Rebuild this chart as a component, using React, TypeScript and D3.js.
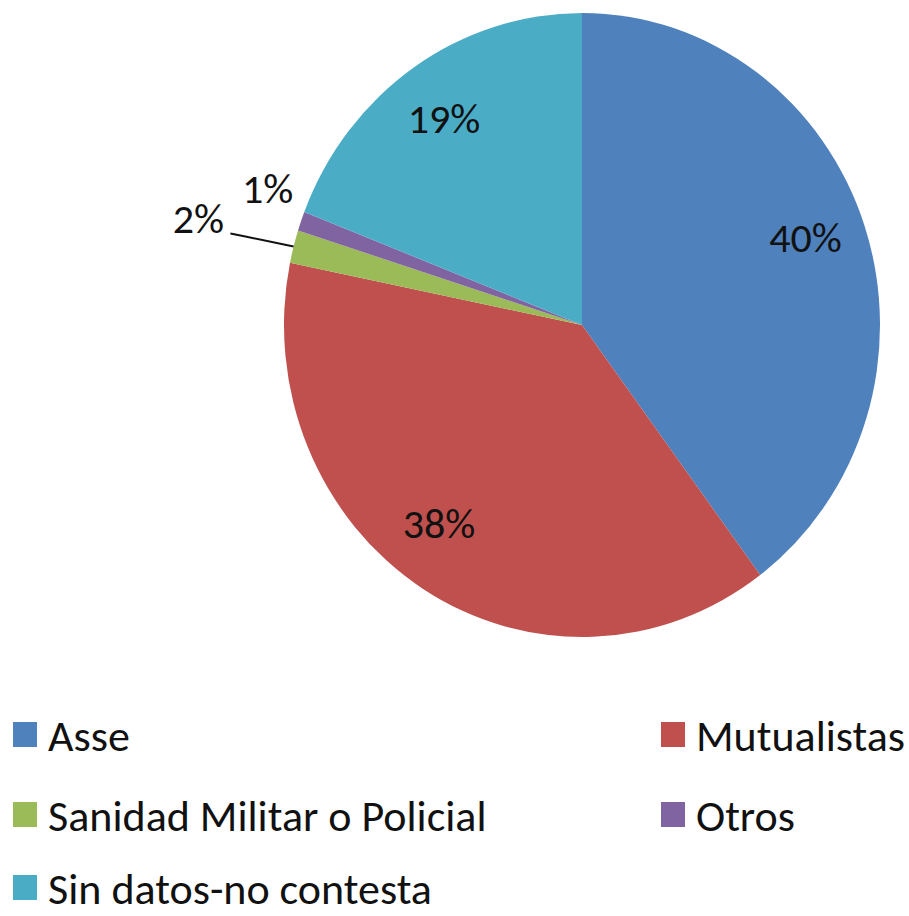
import * as d3 from "d3";

const categories = [
  "Asse",
  "Mutualistas",
  "Sanidad Militar o Policial",
  "Otros",
  "Sin datos-no contesta",
];
const values = [39.8, 38.4, 1.7, 1.0, 19.1];
const colors = ["#4F81BD", "#C0504D", "#9BBB59", "#8064A2", "#4BACC6"];

const width = 909;
const height = 916;
const cx = 582;
const cy = 325;
const radius = 298;
const yStretch = 312 / 298; // source picture is slightly taller than wide
const font = "Calibri, Carlito, Lato, sans-serif";

// label distance as a fraction of the radius; outside ones sit past the rim
const labelRadius = [0.79, 0.82, 1.33, 1.14, 0.82];
// small hand nudges so labels sit where Excel put them
const labelNudge = [
  [0, -10],
  [-12, -18],
  [0, -2],
  [6, -18],
  [0, 5],
];

export default function App() {
  const pie = d3
    .pie<number>()
    .sort(null)
    .value((d) => d);
  const arcs = pie(values);
  const arc = d3.arc<d3.PieArcDatum<number>>().innerRadius(0).outerRadius(radius);
  const total = d3.sum(values);

  const labelPos = (d: d3.PieArcDatum<number>, k: number) => {
    const a = (d.startAngle + d.endAngle) / 2;
    return [Math.sin(a) * radius * k, -Math.cos(a) * radius * k * yStretch];
  };

  const legendRows = [
    { i: 0, x: 13, y: 735 },
    { i: 1, x: 661, y: 735 },
    { i: 2, x: 13, y: 815 },
    { i: 3, x: 661, y: 815 },
    { i: 4, x: 13, y: 888 },
  ];

  return (
    <svg
      width={width}
      height={height}
      style={{ position: "absolute", left: 0, top: 0, background: "#fff" }}
    >
      <g transform={`translate(${cx},${cy})`}>
        <g transform={`scale(1,${yStretch})`}>
          {arcs.map((d, i) => (
            <path key={categories[i]} d={arc(d) ?? ""} fill={colors[i]} />
          ))}
        </g>
        {arcs.map((d, i) => {
          const [lx, ly] = labelPos(d, labelRadius[i]);
          const pct = `${Math.round((d.data / total) * 100)}%`;
          return (
            <text
              key={`l-${i}`}
              x={lx + labelNudge[i][0]}
              y={ly + labelNudge[i][1]}
              textAnchor="middle"
              dominantBaseline="central"
              fontFamily={font}
              fontSize={42}
              fill="#111"
            >
              {pct}
            </text>
          );
        })}
        {(() => {
          const d = arcs[2];
          const [ex, ey] = labelPos(d, 1.0);
          const [lx, ly] = labelPos(d, 1.33);
          const path = d3.path();
          path.moveTo(lx + 32, ly + 13);
          path.lineTo(lx + 47, ly + 16);
          path.lineTo(ex, ey);
          return <path d={path.toString()} fill="none" stroke="#111" strokeWidth={2} />;
        })()}
      </g>
      {legendRows.map((r) => (
        <g key={categories[r.i]} transform={`translate(${r.x},${r.y})`}>
          <rect x={0} y={-13} width={24} height={25} fill={colors[r.i]} />
          <text
            x={35}
            y={1}
            dominantBaseline="central"
            fontFamily={font}
            fontSize={44}
            fill="#111"
          >
            {categories[r.i]}
          </text>
        </g>
      ))}
    </svg>
  );
}
